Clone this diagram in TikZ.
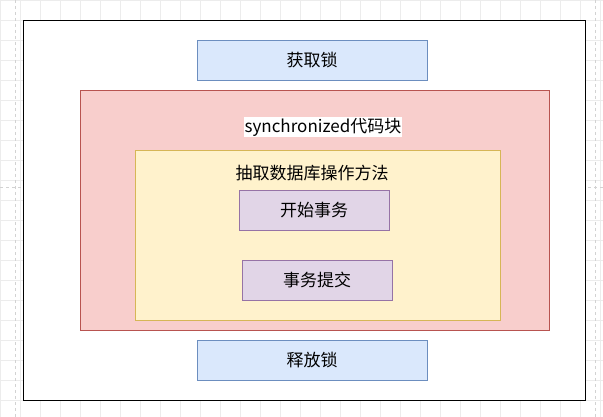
\documentclass[tikz,border=0pt]{standalone}
\usepackage{fontspec}
\setmainfont{Noto Sans CJK SC}
\begin{document}
\begin{tikzpicture}[x=1pt,y=-1pt,
  box/.style={draw,line width=0.6pt,inner sep=0pt},
  lbl/.style={font=\fontsize{17}{20}\selectfont},
  blue/.style={box,fill={rgb,255:red,218;green,232;blue,252},draw={rgb,255:red,108;green,142;blue,191}},
  purple/.style={box,fill={rgb,255:red,225;green,213;blue,231},draw={rgb,255:red,150;green,115;blue,166}}]
\useasboundingbox (0,0) rectangle (603,417);
\fill[white] (0,0) rectangle (603,417);
\draw[gray!15,step=20pt] (0,0) grid (603,417);
\draw[gray!35,dashed] (0,187) -- (603,187);
\draw[gray!35,dashed] (15,0) -- (15,417);
\draw[gray!35,dashed] (595,0) -- (595,417);
\draw[black,line width=0.7pt,fill=white] (23,20) rectangle (585,400);
\draw[blue] (197,40) rectangle (427,80);
\node[lbl] (lock) at (312,60) {获取锁};
\draw[box,fill={rgb,255:red,248;green,206;blue,204},draw={rgb,255:red,184;green,84;blue,80}] (80,90) rectangle (549,330);
\node[lbl,fill=white,inner sep=1pt] (sync) at (323,127) {synchronized代码块};
\draw[box,fill={rgb,255:red,255;green,242;blue,204},draw={rgb,255:red,214;green,182;blue,86}] (135,150) rectangle (500,320);
\node[lbl] (method) at (312,173) {抽取数据库操作方法};
\draw[purple] (239,190) rectangle (389,230);
\node[lbl] (begin) at (314,210) {开始事务};
\draw[purple] (242,260) rectangle (392,300);
\node[lbl] (commit) at (317,280) {事务提交};
\draw[blue] (197,340) rectangle (427,380);
\node[lbl] (unlock) at (312,360) {释放锁};
\end{tikzpicture}
\end{document}
